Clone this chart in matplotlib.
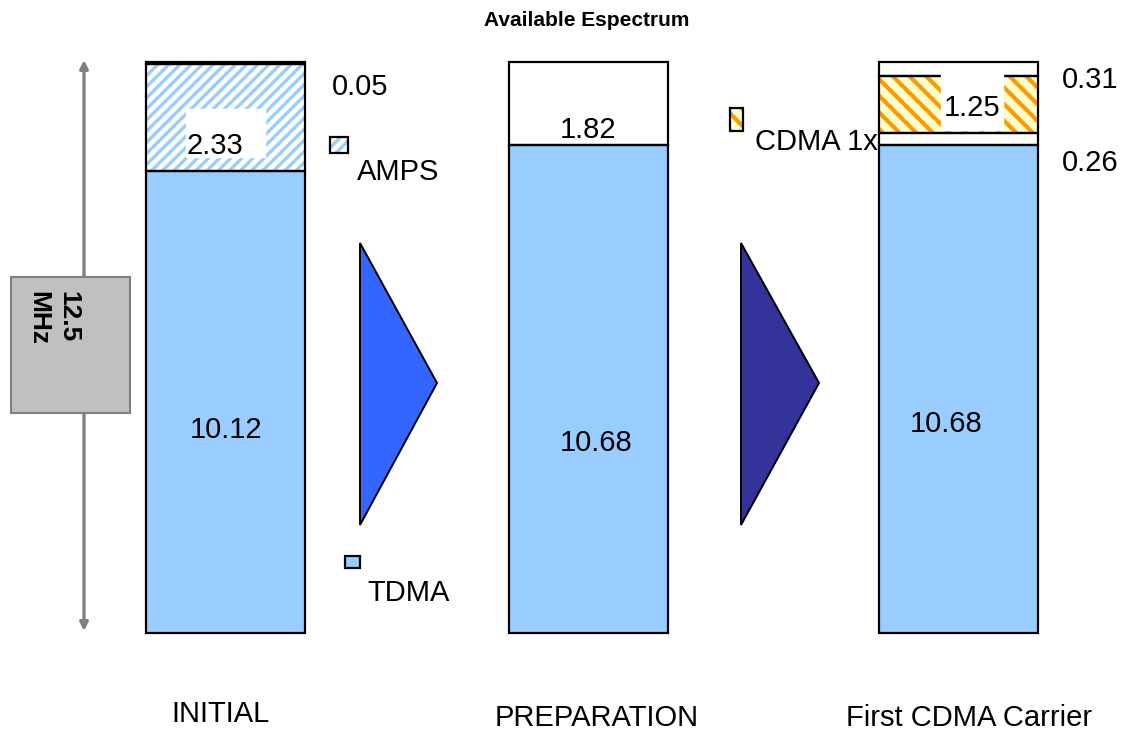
import matplotlib
matplotlib.use('Agg')
import matplotlib.pyplot as plt
from matplotlib.patches import Rectangle, Polygon

plt.rcParams['font.family'] = ['Liberation Sans', 'DejaVu Sans']

# spectrum split per stage (MHz)
stages = ['INITIAL', 'PREPARATION', 'First CDMA Carrier']
total_mhz = 12.5
initial = [('TDMA', 10.12), ('AMPS', 2.33), ('free', 0.05)]
preparation = [('TDMA', 10.68), ('free', 1.82)]
first_cdma = [('TDMA', 10.68), ('free', 0.26), ('CDMA', 1.25), ('free', 0.31)]

TDMA_BLUE = '#99CCFF'
CDMA_ORANGE = '#FF9900'
CDMA_BG = '#FFFFCC'

# the axes span the whole canvas: x in pixels, y in MHz
PX_PER_MHZ = 45.68
BASE_PX = 633


def yv(py):
    return (BASE_PX - py) / PX_PER_MHZ


fig = plt.figure(figsize=(11.23, 7.31), dpi=100)
ax = fig.add_axes([0, 0, 1, 1])
ax.set_xlim(0, 1123)
ax.set_ylim(yv(731), yv(0))
ax.axis('off')

bar_x = [225.5, 588, 958]
bar_w = 159

# fill, stripe colour, hatch, stripe width
styles = {
    'TDMA': (TDMA_BLUE, TDMA_BLUE, None, 1.0),
    'AMPS': ('white', TDMA_BLUE, '///', 2.4),
    'CDMA': (CDMA_BG, CDMA_ORANGE, '\\\\', 3.0),
    'free': ('white', 'white', None, 1.0),
}


def seg(x, h, w, bottom, kind):
    fc, hc, hatch, hlw = styles[kind]
    with plt.rc_context({'hatch.linewidth': hlw}):
        ax.bar(x, h, w, bottom=bottom, color=fc, edgecolor=hc, hatch=hatch,
               linewidth=0, zorder=2)
    ax.bar(x, h, w, bottom=bottom, fill=False, edgecolor='black',
           linewidth=1.6, zorder=4)


for x, segs in zip(bar_x, [initial, preparation, first_cdma]):
    bottom = 0
    for kind, h in segs:
        seg(x, h, bar_w, bottom, kind)
        bottom += h

# white label boxes inside the hatched bands
ax.add_patch(Rectangle((186, yv(157)), 79, yv(109) - yv(157), color='white', zorder=5))
ax.add_patch(Rectangle((941, yv(130)), 62, yv(70) - yv(130), color='white', zorder=5))

fs = 21
ax.text(226, yv(430), '%.2f' % initial[0][1], fontsize=fs, ha='center', va='center', zorder=6)
ax.text(215, yv(146), '%.2f' % initial[1][1], fontsize=fs, ha='center', va='center', zorder=6)
ax.text(360, yv(87), '%.2f' % initial[2][1], fontsize=fs, ha='center', va='center')
ax.text(596, yv(443), '%.2f' % preparation[0][1], fontsize=fs, ha='center', va='center', zorder=6)
ax.text(588, yv(130), '%.2f' % preparation[1][1], fontsize=fs, ha='center', va='center', zorder=6)
ax.text(946, yv(424), '%.2f' % first_cdma[0][1], fontsize=fs, ha='center', va='center', zorder=6)
ax.text(1090, yv(163), '%.2f' % first_cdma[1][1], fontsize=fs, ha='center', va='center')
ax.text(972, yv(108), '%.2f' % first_cdma[2][1], fontsize=fs, ha='center', va='center', zorder=6)
ax.text(1090, yv(80), '%.2f' % first_cdma[3][1], fontsize=fs, ha='center', va='center')

# legend swatches and labels
seg(339, yv(137) - yv(153), 18, yv(153), 'AMPS')
ax.text(357, yv(172), 'AMPS', fontsize=fs, ha='left', va='center')

seg(352.5, yv(556) - yv(568), 15, yv(568), 'TDMA')
ax.text(367, yv(593), 'TDMA', fontsize=fs, ha='left', va='center')

seg(736, yv(108) - yv(131), 13, yv(131), 'CDMA')
ax.text(755, yv(142), 'CDMA 1x', fontsize=fs, ha='left', va='center', zorder=1)

# transition arrows
ax.add_patch(Polygon([(360, yv(243)), (360, yv(525)), (437, yv(383))], closed=True,
                     facecolor='#3366FF', edgecolor='black', linewidth=1.4, zorder=3))
ax.add_patch(Polygon([(741, yv(243)), (741, yv(525)), (819, yv(383))], closed=True,
                     facecolor='#333399', edgecolor='black', linewidth=1.4, zorder=3))

# total bandwidth marker
ax.annotate('', xy=(84, yv(60)), xytext=(84, yv(631)),
            arrowprops=dict(arrowstyle='<|-|>', color='#808080', lw=2.4,
                            mutation_scale=12, shrinkA=0, shrinkB=0))
ax.add_patch(Rectangle((11, yv(413)), 119, yv(277) - yv(413), facecolor='#C0C0C0',
                       edgecolor='#808080', linewidth=1.5, zorder=3))
ax.text(68, yv(291), '%.1f' % total_mhz, fontsize=19, fontweight='bold', rotation=-90,
        ha='center', va='top', zorder=4)
ax.text(38, yv(291), 'MHz', fontsize=19, fontweight='bold', rotation=-90,
        ha='center', va='top', zorder=4)

# stage names and title
ax.text(221, yv(714), stages[0], fontsize=fs, ha='center', va='center')
ax.text(597, yv(718), stages[1], fontsize=fs, ha='center', va='center')
ax.text(969, yv(718), stages[2], fontsize=fs, ha='center', va='center')
ax.text(587, yv(21), 'Available Espectrum', fontsize=15, fontweight='bold',
        ha='center', va='center')

fig.savefig('out.png', dpi=100)
